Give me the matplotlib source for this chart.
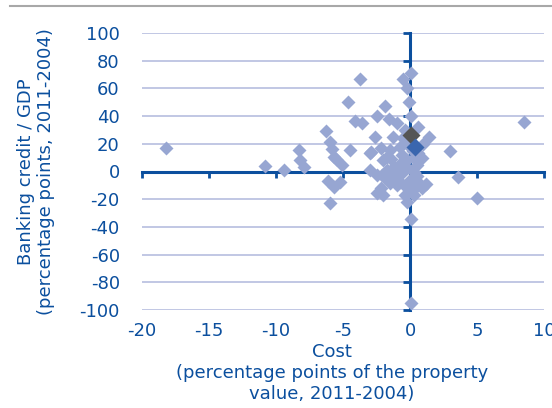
import numpy as np
import matplotlib.pyplot as plt
from matplotlib.lines import Line2D

plt.rcParams['axes.unicode_minus'] = False

# cost change (x) vs banking credit / GDP change (y), one point per region
cost = [-18.2, -10.8, -9.4, -8.3, -8.2, -7.9, -6.3, -6.0, -5.8, -5.7, -5.5, -5.1,
        -4.5, -6.1, -5.7, -5.2, -6.0, -4.6, -3.7, -4.1, -3.6, -2.6, -3.0, -3.0,
        -2.5, -1.9, -1.6, -1.3, -0.5, 0.1, -0.2, -0.1, -1.0, 0.1, -0.4, 0.6,
        1.4, -2.9, -2.2, -1.5, -0.75, 0.9, 3.0, -2.0, -0.25, -2.5, -2.1, -2.2,
        -2.5, -2.0, -1.25, -0.75, -1.2, -0.6, 0.0, 0.9, -0.25, 0.25, -0.25, 0.1,
        0.1, 3.6, 5.0, 8.5, -1.7, -0.6, -0.3, 0.3, 0.5, -0.8, 0.2, -0.2,
        0.5, 0.7, -1.5, 0.3, 1.0, -0.5, 0.3, -1.0, -1.7, -1.9,
        -1.0, 0.4, -0.4, 1.2, -1.4, 0.6]
credit = [17, 4, 1, 15.5, 8.3, 3.5, 29, 21, 16.5, 10.5, 9, 4.7,
          15.5, -6.5, -11, -7.5, -22.5, 50, 67, 36.5, 35, 25, 13, 1,
          40, 47, 38, 25, 67, 71, 60, 50, 35, 40, 30, 32,
          25, 14, 17, 15.5, 18, 9.5, 15, 8, 8, -2.5, -2.5, -12,
          -15.5, -17, -4, -7.5, 3.5, -1.3, -6, -12, -12, -13, -22, -34,
          -95, -4, -19, 36, 10.7, 12, 3, 0, -3, 5, 15, 20,
          5, -8, -8, -17, 20, 24, 10, -10, 1, -5,
          -1, -6, -17, -9, 9, 13]

# highlighted points
avg_x, avg_y = [0.05], [26.3]
ref_x, ref_y = [0.37], [17.9]

xticks = [-20, -15, -10, -5, 0, 5, 10]
yticks = [-100, -80, -60, -40, -20, 0, 20, 40, 60, 80, 100]

navy = '#0B4F9E'
pts = '#97A6D2'
grid = '#B6BEDF'

fig = plt.figure(figsize=(5.52, 4.08), dpi=100)
rect = [142 / 552, 98 / 408, 402 / 552, 277 / 408]
ax = fig.add_axes(rect)
ax.set_xlim(-20, 10)
ax.set_ylim(-100, 100)
ax.set_xticks(xticks)
ax.set_yticks(yticks)

# axes cross at zero
ax.spines['left'].set_position(('data', 0))
ax.spines['bottom'].set_position(('data', 0))
ax.spines['top'].set_visible(False)
ax.spines['right'].set_visible(False)
for s in ['left', 'bottom']:
    ax.spines[s].set_color(navy)
    ax.spines[s].set_linewidth(2.2)
    ax.spines[s].set_zorder(1)
ax.tick_params(axis='x', direction='out', length=4, width=2, color=navy, labelbottom=False)
ax.tick_params(axis='y', direction='out', length=5, width=2, color=navy, labelleft=False)
ax.yaxis.grid(True, color=grid, lw=1.2)
ax.set_axisbelow(True)

ax.plot(cost, credit, 'D', ms=6.9, color=pts, mec='none', zorder=3, clip_on=False)
ax.plot(avg_x, avg_y, 'D', ms=9.2, color='#555555', mec='none', zorder=4)
ax.plot(ref_x, ref_y, 'D', ms=9.2, color='#3A66AE', mec='none', zorder=4)

# tick labels sit at the outer edges, Excel style
lab = fig.add_axes(rect, frameon=False)
lab.set_xlim(-20, 10)
lab.set_ylim(-100, 100)
lab.set_xticks(xticks)
lab.set_yticks(yticks)
lab.tick_params(length=0, labelsize=13, labelcolor=navy)
lab.tick_params(axis='y', pad=16)
lab.tick_params(axis='x', pad=9)
lab.patch.set_visible(False)

fig.text(36 / 552, 1 - 172 / 408, 'Banking credit / GDP\n(percentage points, 2011-2004)',
         rotation=90, ha='center', va='center', fontsize=13, color=navy)
fig.text(332 / 552, 1 - 373 / 408, 'Cost\n(percentage points of the property\nvalue, 2011-2004)',
         ha='center', va='center', fontsize=13, color=navy)

fig.add_artist(Line2D([10 / 552, 1], [1 - 6 / 408, 1 - 6 / 408], color='#A8A8A8', lw=1.5))

fig.savefig('out.png', dpi=100)
